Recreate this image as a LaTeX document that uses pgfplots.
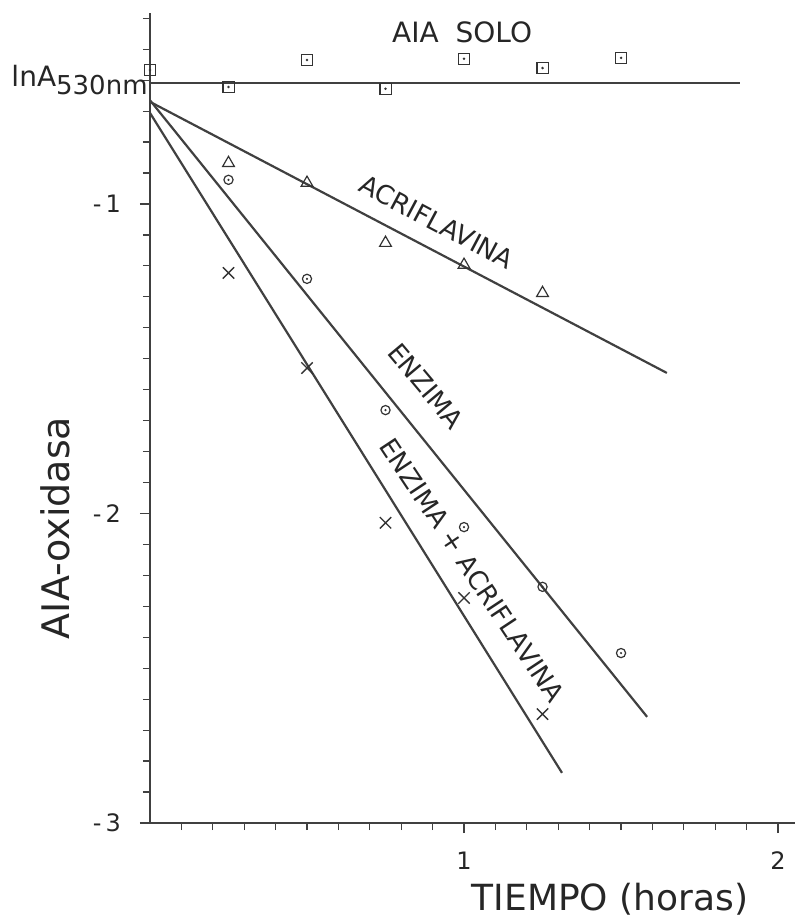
\documentclass[border=0pt]{standalone}
\usepackage{pgfplots}
\pgfplotsset{compat=1.18}
\usepackage{fontspec}
\setmainfont{DejaVu Sans}

% square / circle with a dot in the middle
\pgfdeclareplotmark{sqdot}{%
  \pgfpathrectangle{\pgfqpoint{-\pgfplotmarksize}{-\pgfplotmarksize}}{\pgfqpoint{2\pgfplotmarksize}{2\pgfplotmarksize}}%
  \pgfusepathqstroke
  \pgfpathcircle{\pgfpointorigin}{0.7pt}\pgfusepathqfill}
\pgfdeclareplotmark{ocdot}{%
  \pgfpathcircle{\pgfpointorigin}{\pgfplotmarksize}\pgfusepathqstroke
  \pgfpathcircle{\pgfpointorigin}{0.6pt}\pgfusepathqfill}

\begin{document}
\begin{tikzpicture}
\useasboundingbox (-75pt,-49pt) rectangle (325pt,411.5pt);
\begin{axis}[
  at={(0,0)}, anchor=south west,
  scale only axis,
  width=322.5pt, height=405pt,
  xmin=0, xmax=2.054,
  ymin=-3, ymax=-0.383,
  axis lines*=left,
  axis line style={black!75, line width=1pt},
  tick align=outside,
  xtick={1,2},
  minor xtick={0.1,0.2,...,2.05},
  ytick={-3,-2,-1},
  yticklabels={-\,3,-\,2,-\,1},
  minor ytick={-2.9,-2.8,...,-0.35},
  major tick length=5pt,
  minor tick length=3.5pt,
  every tick/.style={black!75, line width=0.6pt},
  tick label style={font=\fontsize{12}{14}\selectfont, black!85},
  /pgf/number format/assume math mode=true,
  xticklabel style={yshift=-6pt},
  yticklabel style={xshift=-6pt},
  clip=false,
]

% fitted lines
\addplot[black!75, line width=1.1pt] coordinates {(0,-0.609) (1.88,-0.609)};
\addplot[black!75, line width=1.1pt] coordinates {(0,-0.670) (1.646,-1.546)};
\addplot[black!75, line width=1.1pt] coordinates {(0,-0.665) (1.583,-2.657)};
\addplot[black!75, line width=1.1pt] coordinates {(0,-0.706) (1.312,-2.838)};

% AIA solo
\addplot[only marks, mark=sqdot, mark size=2.8pt, mark options={black!80, line width=0.6pt}] coordinates {
  (0,-0.567) (0.25,-0.622) (0.5,-0.535) (0.75,-0.628) (1,-0.531) (1.25,-0.561) (1.5,-0.528)
};
% acriflavina
\addplot[only marks, mark=triangle, mark size=3.4pt, mark options={black!80, line width=0.6pt}] coordinates {
  (0.25,-0.868) (0.5,-0.932) (0.75,-1.126) (1,-1.197) (1.25,-1.288)
};
% enzima
\addplot[only marks, mark=ocdot, mark size=2.3pt, mark options={black!80, line width=0.6pt}] coordinates {
  (0.25,-0.922) (0.5,-1.242) (0.75,-1.666) (1,-2.044) (1.25,-2.237) (1.5,-2.451)
};
% enzima + acriflavina
\addplot[only marks, mark=x, mark size=4pt, mark options={black!80, line width=0.7pt}] coordinates {
  (0.25,-1.223) (0.5,-1.530) (0.75,-2.030) (1,-2.273) (1.25,-2.648)
};

\node[font=\fontsize{14}{16}\selectfont, black!85] at (axis cs:0.994,-0.447) {AIA\hspace{0.6em}SOLO};
\node[font=\fontsize{13}{15}\selectfont, black!85, rotate=-28] at (axis cs:0.914,-1.058) {ACRIFLAVINA};
\node[font=\fontsize{13}{15}\selectfont, black!85, rotate=-50] at (axis cs:0.879,-1.588) {ENZIMA};
\node[font=\fontsize{13}{15}\selectfont, black!85, rotate=-56.5] at (axis cs:1.026,-2.183) {ENZIMA + ACRIFLAVINA};
\node[font=\fontsize{14}{16}\selectfont, black!85, anchor=east, inner sep=1pt] at (axis cs:0,-0.60)
  {lnA\raisebox{-0.5ex}{\fontsize{13}{15}\selectfont 530nm}};
\end{axis}
\node[font=\fontsize{18}{21}\selectfont, black!85] at (230pt,-38pt) {TIEMPO (horas)};
\node[font=\fontsize{19}{22}\selectfont, black!85, rotate=90] at (-47.5pt,147.5pt) {AIA-oxidasa};
\end{tikzpicture}
\end{document}
